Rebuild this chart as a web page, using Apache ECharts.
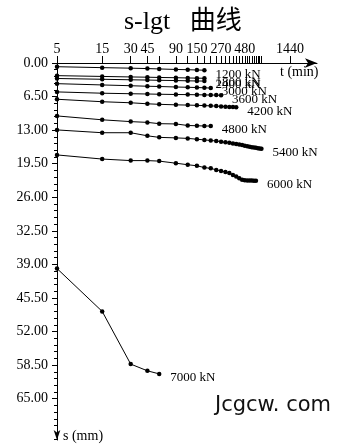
<!DOCTYPE html>
<html>
<head>
<meta charset="utf-8">
<script src="https://cdn.jsdelivr.net/npm/echarts@6/dist/echarts.min.js"></script>
<style>
  html, body { margin: 0; padding: 0; background: #fff; }
  #chart { width: 342px; height: 445px; }
</style>
</head>
<body>
<div id="chart"></div>
<script>
// Load steps (kN) and their settlement readings s (mm) against elapsed time t (min)
const loadNames = ['1200 kN', '1800 kN', '2400 kN', '3000 kN', '3600 kN', '4200 kN', '4800 kN', '5400 kN', '6000 kN', '7000 kN'];

const t1200 = [5, 15, 30, 45, 60, 90, 120, 150, 180];
const s1200 = [0.72, 0.9, 1.0, 1.08, 1.15, 1.25, 1.3, 1.35, 1.4];

const t1800 = [5, 15, 30, 45, 60, 90, 120, 150, 180];
const s1800 = [2.45, 2.6, 2.7, 2.75, 2.8, 2.85, 2.9, 2.93, 2.96];

const t2400 = [5, 15, 30, 45, 60, 90, 120, 150, 180];
const s2400 = [3.0, 3.15, 3.25, 3.3, 3.35, 3.4, 3.45, 3.48, 3.5];

const t3000 = [5, 15, 30, 45, 60, 90, 120, 150, 180, 210];
const s3000 = [4.0, 4.25, 4.4, 4.5, 4.55, 4.65, 4.7, 4.75, 4.8, 4.85];

const t3600 = [5, 15, 30, 45, 60, 90, 120, 150, 180, 210, 240, 270];
const s3600 = [5.6, 5.85, 5.95, 6.0, 6.05, 6.1, 6.12, 6.15, 6.18, 6.2, 6.22, 6.25];

const t4200 = [5, 15, 30, 45, 60, 90, 120, 150, 180, 210, 240, 270, 300, 330, 360, 390];
const s4200 = [7.02, 7.5, 7.7, 7.9, 8.0, 8.1, 8.15, 8.2, 8.25, 8.3, 8.35, 8.4, 8.45, 8.5, 8.52, 8.55];

const t4800 = [5, 15, 30, 45, 60, 90, 120, 150, 180, 210];
const s4800 = [10.25, 11.0, 11.35, 11.5, 11.75, 11.8, 12.1, 12.15, 12.2, 12.2];

const t5400 = [5, 15, 30, 45, 60, 90, 120, 150, 180, 210, 240, 270, 300, 330, 360, 390, 420, 450, 480, 510, 540, 570, 600, 630, 660, 690, 720];
const s5400 = [12.96, 13.5, 13.5, 14.1, 14.4, 14.5, 14.6, 14.75, 14.9, 15.0, 15.1, 15.25, 15.35, 15.45, 15.6, 15.7, 15.8, 15.9, 16.0, 16.1, 16.2, 16.3, 16.35, 16.4, 16.5, 16.55, 16.6];

const t6000 = [5, 15, 30, 45, 60, 90, 120, 150, 180, 210, 240, 270, 300, 330, 360, 390, 420, 450, 480, 510, 540, 570, 600, 630];
const s6000 = [17.8, 18.6, 18.9, 18.9, 19.0, 19.4, 19.7, 19.9, 20.25, 20.4, 20.7, 20.9, 21.1, 21.3, 21.7, 22.0, 22.3, 22.6, 22.7, 22.75, 22.75, 22.75, 22.8, 22.8];

const t7000 = [5, 15, 30, 45, 60];
const s7000 = [39.8, 48.1, 58.3, 59.6, 60.2];

// Axis ticks: labelled times, plus a tick every 30 min from 60 to 720 and one at 1440
const timeLabels = [5, 15, 30, 45, 90, 150, 270, 480, 1440];
const timeTicks = [5, 15, 30, 45, 60, 90, 120, 150, 180, 210, 240, 270, 300, 330, 360, 390, 420, 450, 480, 510, 540, 570, 600, 630, 660, 690, 720, 1440];
const settleLabels = [0, 6.5, 13, 19.5, 26, 32.5, 39, 45.5, 52, 58.5, 65];

const timeSets = [t1200, t1800, t2400, t3000, t3600, t4200, t4800, t5400, t6000, t7000];
const settleSets = [s1200, s1800, s2400, s3000, s3600, s4200, s4800, s5400, s6000, s7000];

const serif = "'Liberation Serif', 'Times New Roman', serif";

const series = loadNames.map(function (name, k) {
  return {
    name: name,
    type: 'line',
    data: timeSets[k].map(function (t, i) { return [t, settleSets[k][i]]; }),
    symbol: 'circle',
    symbolSize: 4.5,
    lineStyle: { color: '#000', width: 1 },
    itemStyle: { color: '#000' },
    endLabel: {
      show: true,
      formatter: '{a}',
      color: '#000',
      fontFamily: serif,
      fontSize: 13,
      offset: [3, 4]
    },
    emphasis: { disabled: true },
    z: 3
  };
});

const chart = echarts.init(document.getElementById('chart'), null, { renderer: 'canvas' });
chart.setOption({
  backgroundColor: '#fff',
  animation: false,
  title: {
    text: 's-lgt   曲线',
    left: 119,
    top: 4,
    textStyle: {
      fontFamily: "'Liberation Serif', 'Noto Sans CJK SC', serif",
      fontSize: 26,
      fontWeight: 'normal',
      color: '#000'
    }
  },
  grid: { left: 57, top: 63, width: 260, height: 377 },
  xAxis: {
    type: 'log',
    logBase: 10,
    min: 5,
    max: 2780,
    position: 'top',
    axisLine: {
      show: true,
      lineStyle: { color: '#000', width: 1 },
      symbol: ['none', 'arrow'],
      symbolSize: [7, 12]
    },
    axisTick: {
      show: true,
      length: 7,
      customValues: timeTicks,
      lineStyle: { color: '#000' }
    },
    axisLabel: {
      customValues: timeLabels,
      margin: 7,
      color: '#000',
      fontFamily: serif,
      fontSize: 14,
      formatter: function (v) { return String(Math.round(v)); }
    },
    splitLine: { show: false },
    minorTick: { show: false }
  },
  yAxis: {
    type: 'value',
    inverse: true,
    min: 0,
    max: 73,
    interval: 6.5,
    axisLine: {
      show: true,
      lineStyle: { color: '#000', width: 1 },
      symbol: ['arrow', 'none'],
      symbolSize: [5, 10]
    },
    axisTick: {
      show: true,
      length: 5,
      customValues: settleLabels,
      lineStyle: { color: '#000' }
    },
    minorTick: {
      show: true,
      splitNumber: 5,
      length: 3,
      lineStyle: { color: '#000' }
    },
    axisLabel: {
      customValues: settleLabels,
      margin: 9,
      color: '#000',
      fontFamily: serif,
      fontSize: 14,
      formatter: function (v) { return v.toFixed(2); }
    },
    splitLine: { show: false }
  },
  graphic: [
    {
      type: 'text', left: 280, top: 65,
      style: { text: 't (min)', fontFamily: serif, fontSize: 14, fill: '#000' }
    },
    {
      type: 'text', left: 63, top: 429,
      style: { text: 's (mm)', fontFamily: serif, fontSize: 14, fill: '#000' }
    },
    {
      type: 'text', left: 215, top: 395,
      style: { text: 'Jcgcw. com', fontFamily: "'DejaVu Sans', sans-serif", fontSize: 21, fill: '#111' }
    }
  ],
  series: series
});
</script>
</body>
</html>
